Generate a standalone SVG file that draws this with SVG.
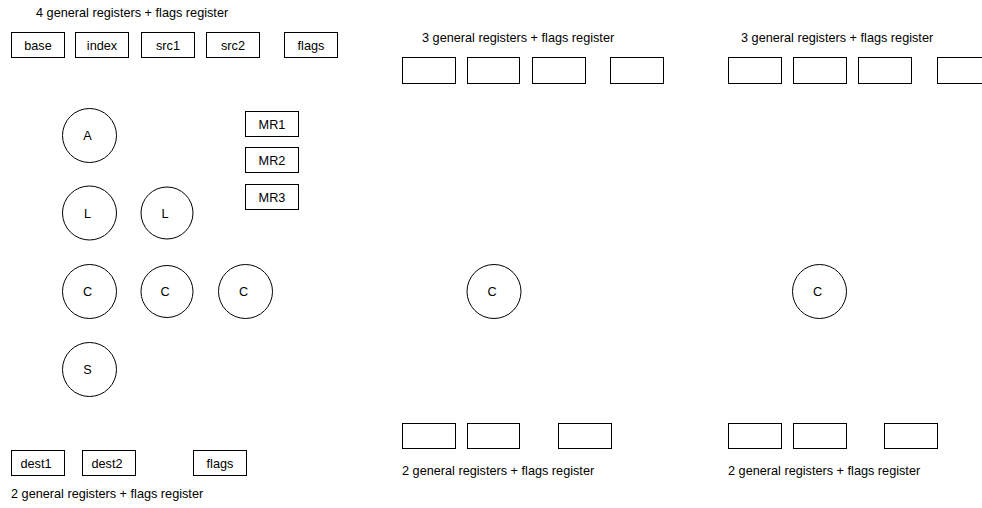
<svg xmlns="http://www.w3.org/2000/svg" width="982" height="508" viewBox="0 0 982 508">
<style>
text{font-family:"Liberation Sans",Arial,sans-serif;font-size:12.7px;fill:#000}
.c{text-anchor:middle}
.n rect,.n circle{fill:#fff;stroke:#000;stroke-width:1}
</style>
<rect x="0" y="0" width="982" height="508" fill="#fff"/>
<g id="labels">
<text x="36" y="17">4 general registers + flags register</text>
<text x="422" y="42">3 general registers + flags register</text>
<text x="741" y="42">3 general registers + flags register</text>
<text x="11" y="498">2 general registers + flags register</text>
<text x="402" y="475">2 general registers + flags register</text>
<text x="728" y="475">2 general registers + flags register</text>
</g>
<g id="reg-base" class="n"><rect x="11.5" y="32.5" width="53" height="25"/><text class="c" x="38" y="49.5">base</text></g>
<g id="reg-index" class="n"><rect x="75.5" y="32.5" width="53" height="25"/><text class="c" x="102" y="49.5">index</text></g>
<g id="reg-src1" class="n"><rect x="141.5" y="32.5" width="53" height="25"/><text class="c" x="168" y="49.5">src1</text></g>
<g id="reg-src2" class="n"><rect x="206.5" y="32.5" width="53" height="25"/><text class="c" x="233" y="49.5">src2</text></g>
<g id="reg-flags" class="n"><rect x="284.5" y="32.5" width="53" height="25"/><text class="c" x="311" y="49.5">flags</text></g>
<g id="mr1" class="n"><rect x="245.5" y="111.5" width="53" height="25"/><text class="c" x="272" y="128.5">MR1</text></g>
<g id="mr2" class="n"><rect x="245.5" y="147.5" width="53" height="25"/><text class="c" x="272" y="164.5">MR2</text></g>
<g id="mr3" class="n"><rect x="245.5" y="184.5" width="53" height="25"/><text class="c" x="272" y="201.5">MR3</text></g>
<g id="node-A" class="n"><circle cx="89.5" cy="135.5" r="27"/><text class="c" x="87.5" y="140">A</text></g>
<g id="node-L1" class="n"><circle cx="89.5" cy="213" r="27"/><text class="c" x="87.5" y="217.5">L</text></g>
<g id="node-L2" class="n"><circle cx="167" cy="213" r="26"/><text class="c" x="165" y="217.5">L</text></g>
<g id="node-C1" class="n"><circle cx="89.5" cy="291.5" r="27"/><text class="c" x="87.5" y="296">C</text></g>
<g id="node-C2" class="n"><circle cx="167" cy="291.5" r="26"/><text class="c" x="165" y="296">C</text></g>
<g id="node-C3" class="n"><circle cx="245.5" cy="291.5" r="27"/><text class="c" x="243.5" y="296">C</text></g>
<g id="node-S" class="n"><circle cx="89.5" cy="369.5" r="27"/><text class="c" x="87.5" y="374">S</text></g>
<g id="reg-dest1" class="n"><rect x="11.5" y="450.5" width="53" height="25"/><text class="c" x="36" y="467.5">dest1</text></g>
<g id="reg-dest2" class="n"><rect x="82.5" y="450.5" width="53" height="25"/><text class="c" x="107" y="467.5">dest2</text></g>
<g id="reg-dflags" class="n"><rect x="193.5" y="450.5" width="53" height="25"/><text class="c" x="220" y="467.5">flags</text></g>
<g id="p2-top" class="n"><rect x="402.5" y="57.5" width="53" height="26"/><rect x="467.5" y="57.5" width="52" height="26"/><rect x="532.5" y="57.5" width="53" height="26"/><rect x="610.5" y="57.5" width="53" height="26"/></g>
<g id="p2-C" class="n"><circle cx="494" cy="291.5" r="27"/><text class="c" x="492" y="296">C</text></g>
<g id="p2-bottom" class="n"><rect x="402.5" y="423.5" width="53" height="25"/><rect x="467.5" y="423.5" width="52" height="25"/><rect x="558.5" y="423.5" width="53" height="25"/></g>
<g id="p3-top" class="n"><rect x="728.5" y="57.5" width="53" height="26"/><rect x="793.5" y="57.5" width="53" height="26"/><rect x="858.5" y="57.5" width="53" height="26"/><rect x="937.5" y="57.5" width="53" height="26"/></g>
<g id="p3-C" class="n"><circle cx="819.5" cy="291.5" r="27"/><text class="c" x="817.5" y="296">C</text></g>
<g id="p3-bottom" class="n"><rect x="728.5" y="423.5" width="53" height="25"/><rect x="793.5" y="423.5" width="53" height="25"/><rect x="884.5" y="423.5" width="53" height="25"/></g>
<g id="connectors"></g>
</svg>
